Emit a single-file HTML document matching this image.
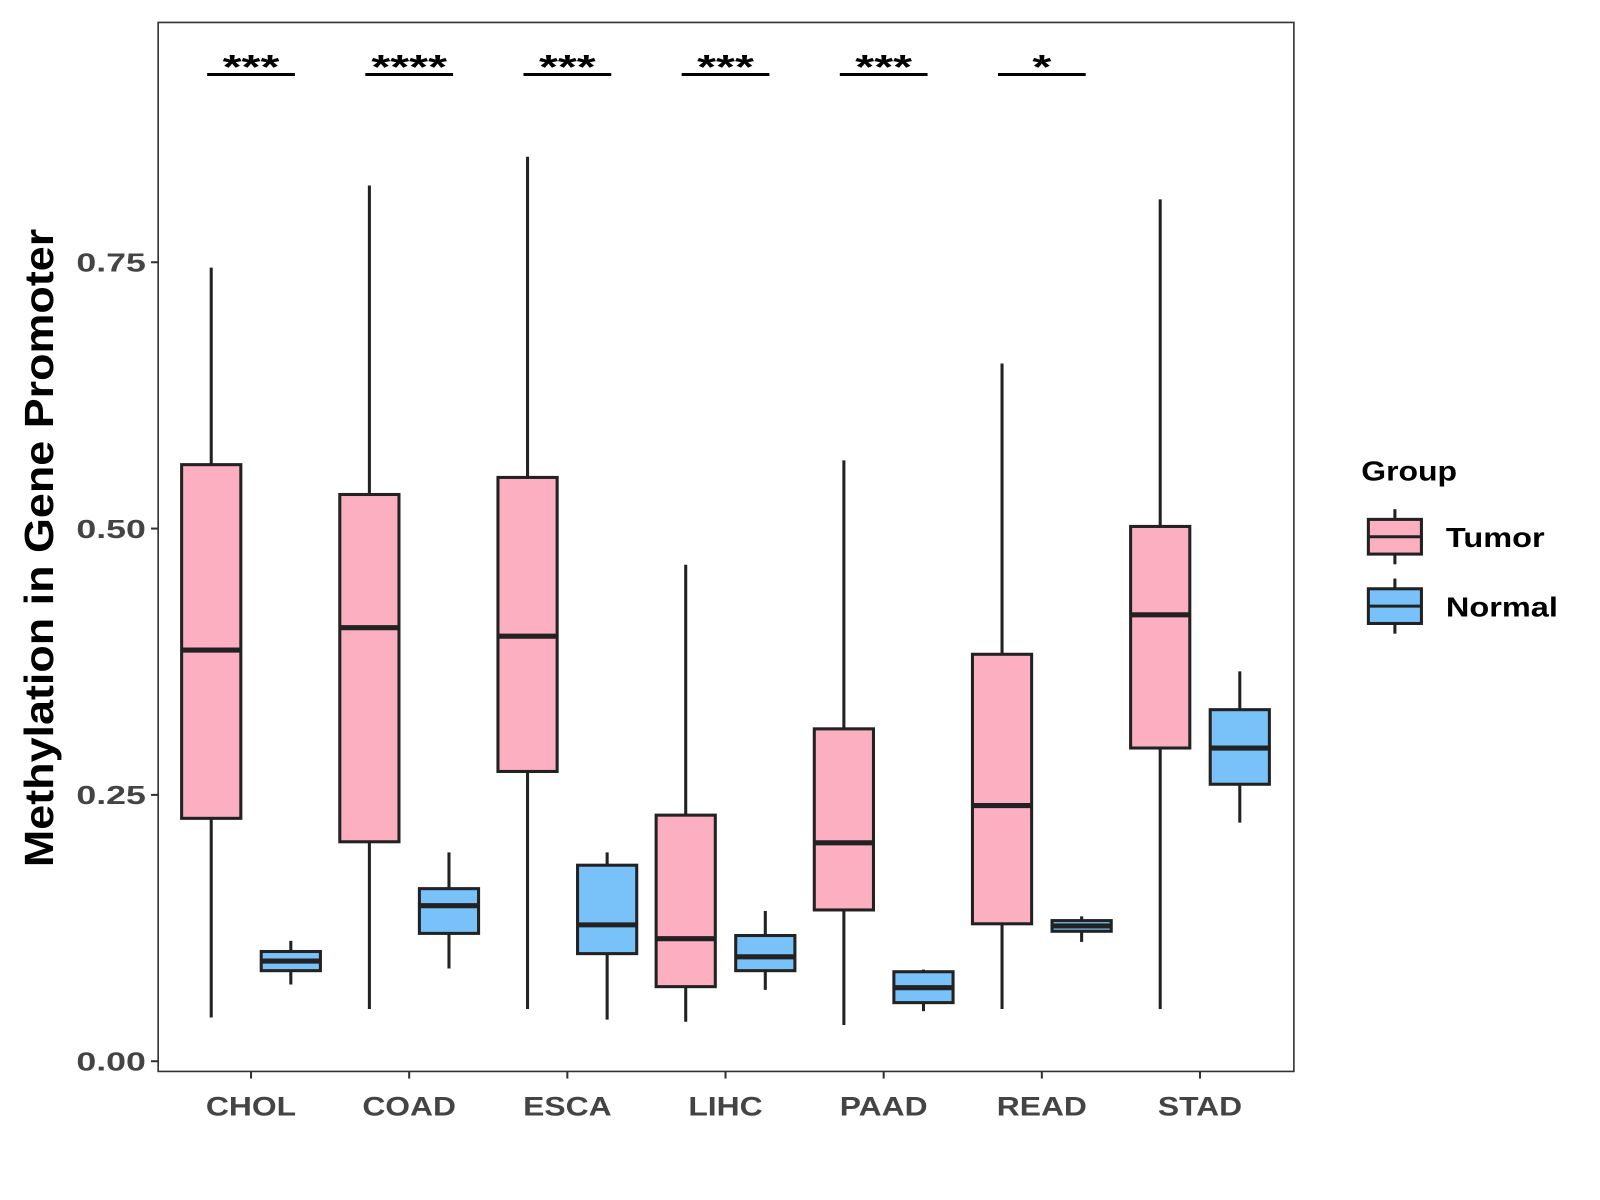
<!DOCTYPE html>
<html><head><meta charset="utf-8"><style>
html,body{margin:0;padding:0;background:#fff;}
svg{display:block;font-family:"Liberation Sans",Arial,sans-serif;}
</style></head><body>
<svg id="chart" width="1600" height="1200" viewBox="0 0 1568 1176">
<rect x="0" y="0" width="1568" height="1176" fill="#fff"/>
<g id="plot"></g>
</svg>
<script>
const categories=["CHOL","COAD","ESCA","LIHC","PAAD","READ","STAD"];
const tumorStats=[[0.041,0.228,0.386,0.56,0.745],[0.049,0.206,0.407,0.532,0.822],[0.049,0.272,0.399,0.548,0.849],[0.037,0.070,0.115,0.231,0.466],[0.034,0.142,0.205,0.312,0.564],[0.049,0.129,0.240,0.382,0.655],[0.049,0.294,0.419,0.502,0.809]];
const normalStats=[[0.072,0.085,0.094,0.103,0.113],[0.087,0.120,0.146,0.162,0.196],[0.039,0.101,0.128,0.184,0.196],[0.067,0.085,0.098,0.118,0.141],[0.047,0.055,0.069,0.084,0.086],[0.112,0.122,0.127,0.132,0.136],[0.224,0.260,0.294,0.330,0.366]];
const sigLabels=["***","****","***","***","***","*",""];
const yTicks=[0,0.25,0.5,0.75];
const yTickLabels=["0.00","0.25","0.50","0.75"];
const NS="http://www.w3.org/2000/svg";
const P={l:155,t:22,r:1268,b:1050};
const y=v=>1040-v*1044;
const x=i=>246+i*155;
const g=document.getElementById('plot');
function el(tag,attrs,parent){const e=document.createElementNS(NS,tag);for(const k in attrs)e.setAttribute(k,attrs[k]);(parent||g).appendChild(e);return e;}
function stretch(t,f){const w=t.getComputedTextLength();t.setAttribute('textLength',w*f);t.setAttribute('lengthAdjust','spacingAndGlyphs');}
const frame=el('rect',{x:P.l,y:P.t,width:P.r-P.l,height:P.b-P.t,fill:'none',stroke:'#333',"stroke-width":1.6});


yTicks.forEach((v,i)=>{
  const t=el('line',{x1:P.l-7,x2:P.l,y1:y(v),y2:y(v),stroke:'#333',"stroke-width":2});
  
  
  const tx=el('text',{x:P.l-12,y:y(v)+9,"text-anchor":"end","font-size":25,"font-weight":"bold",fill:'#444'});
  tx.textContent=yTickLabels[i];
  
  
  stretch(tx,1.4);
});
function box(cx,s,fill,name){
  const w=58;
  const gg=el('g',{});
  
  
  el('line',{x1:cx,x2:cx,y1:y(s[0]),y2:y(s[4]),stroke:'#222',"stroke-width":3},gg);
  el('rect',{x:cx-w/2,y:y(s[3]),width:w,height:y(s[1])-y(s[3]),fill:fill,stroke:'#222',"stroke-width":3},gg);
  el('line',{x1:cx-w/2,x2:cx+w/2,y1:y(s[2]),y2:y(s[2]),stroke:'#222',"stroke-width":5},gg);
}
categories.forEach((c,i)=>{
  box(x(i)-39,tumorStats[i],'#fbafc1','box-tumor-'+c.toLowerCase());
  box(x(i)+39,normalStats[i],'#79c2f9','box-normal-'+c.toLowerCase());
  const t=el('line',{x1:x(i),x2:x(i),y1:P.b,y2:P.b+7,stroke:'#333',"stroke-width":2});
  
  
  const tx=el('text',{x:x(i),y:P.b+43,"text-anchor":"middle","font-size":26,"font-weight":"bold",fill:'#444'});
  tx.textContent=c;
  
  
  stretch(tx,1.2);
  if(sigLabels[i]){
    const ln=el('line',{x1:x(i)-43,x2:x(i)+43,y1:73,y2:73,stroke:'#000',"stroke-width":3});
    
    
    const st=el('text',{x:x(i),y:77,"text-anchor":"middle","font-size":34,"font-weight":"bold",fill:'#000'});
    st.textContent=sigLabels[i];
    
    
    stretch(st,1.4);
  }
});
const yt=el('text',{x:0,y:0,transform:'translate(52,537) rotate(-90)',"text-anchor":"middle","font-size":40,"font-weight":"bold",fill:'#000'});
yt.textContent='Methylation in Gene Promoter';


stretch(yt,1.1);
const lt=el('text',{x:1334,y:471,"font-size":27,"font-weight":"bold",fill:'#000'});
lt.textContent='Group';


stretch(lt,1.16);
[['Tumor','#fbafc1',526],['Normal','#79c2f9',594]].forEach(([n,f,cy])=>{
  const gg=el('g',{});
  
  
  el('line',{x1:1367,x2:1367,y1:cy-27,y2:cy+27,stroke:'#222',"stroke-width":3},gg);
  el('rect',{x:1341,y:cy-17,width:52,height:34,fill:f,stroke:'#222',"stroke-width":3},gg);
  el('line',{x1:1341,x2:1393,y1:cy,y2:cy,stroke:'#222',"stroke-width":3},gg);
  const t=el('text',{x:1417,y:cy+10,"font-size":27,"font-weight":"bold",fill:'#000'},gg);
  t.textContent=n;
  stretch(t,1.18);
});
</script>
</body></html>
